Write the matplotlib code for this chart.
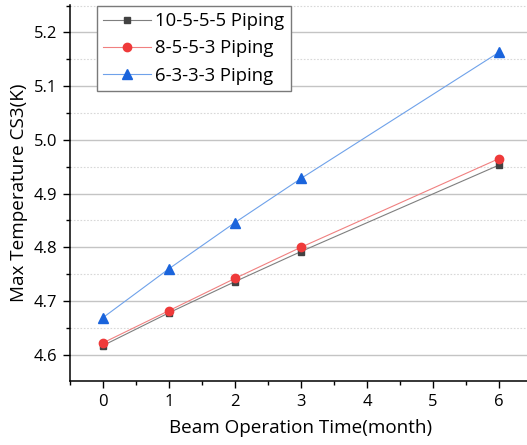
import matplotlib.pyplot as plt
from matplotlib.ticker import MultipleLocator

plt.rcParams['font.family'] = ['Open Sans', 'DejaVu Sans']

# Beam operation time (month)
months = [0, 1, 2, 3, 6]

# Max temperature of CS3 (K) for each piping layout
temp_10555 = [4.617, 4.678, 4.736, 4.792, 4.953]
temp_8553 = [4.622, 4.682, 4.742, 4.800, 4.965]
temp_6333 = [4.669, 4.760, 4.846, 4.928, 5.163]

labels = ["10-5-5-5 Piping", "8-5-5-3 Piping", "6-3-3-3 Piping"]

W, H = 527, 445
fig = plt.figure(figsize=(W / 100, H / 100), dpi=100)
ax = fig.add_axes([70 / W, (H - 381) / H, 462 / W, 376 / H])

ax.plot(months, temp_10555, color="#7f7f7f", lw=0.8, marker="s", ms=5,
        mfc="#424242", mec="#424242", label=labels[0], zorder=3)
ax.plot(months, temp_8553, color="#f08080", lw=0.8, marker="o", ms=6,
        mfc="#ef3a3a", mec="#ef3a3a", label=labels[1], zorder=4)
ax.plot(months, temp_6333, color="#6fa2ea", lw=0.8, marker="^", ms=7,
        mfc="#1a64dc", mec="#1a64dc", label=labels[2], zorder=5)

ax.set_xlim(-0.5, 6.5)
ax.set_ylim(4.551, 5.251)
ax.xaxis.set_major_locator(MultipleLocator(1))
ax.xaxis.set_minor_locator(MultipleLocator(0.5))
ax.yaxis.set_major_locator(MultipleLocator(0.1))
ax.yaxis.set_minor_locator(MultipleLocator(0.05))
ax.yaxis.set_major_formatter(plt.FormatStrFormatter("%.1f"))

ax.grid(axis="y", which="major", color="#c4c4c4", lw=1.0, ls="-")
ax.grid(axis="y", which="minor", color="#d8d8d8", lw=0.8, ls=(0, (1.5, 1.5)))
ax.set_axisbelow(True)

for side in ("top", "right"):
    ax.spines[side].set_visible(False)
for side in ("left", "bottom"):
    ax.spines[side].set_linewidth(1.1)
    ax.spines[side].set_color("black")

ax.tick_params(which="major", direction="out", length=5, width=1.0,
               labelsize=12, pad=4)
ax.tick_params(which="minor", direction="out", length=3, width=1.0)

ax.set_xlabel("Beam Operation Time(month)", fontsize=13.6, labelpad=7)
ax.set_ylabel("Max Temperature CS3(K)", fontsize=13.6, labelpad=4)

leg = ax.legend(loc="upper left", bbox_to_anchor=(27 / 462, 1 - 0.7 / 376),
                fontsize=13.3, frameon=True, fancybox=False, framealpha=1,
                edgecolor="#7a7a7a", handlelength=2.6, handletextpad=0.2,
                borderpad=0.35, labelspacing=0.5, borderaxespad=0)
leg.get_frame().set_linewidth(1.0)

fig.savefig("out.png", dpi=100)
